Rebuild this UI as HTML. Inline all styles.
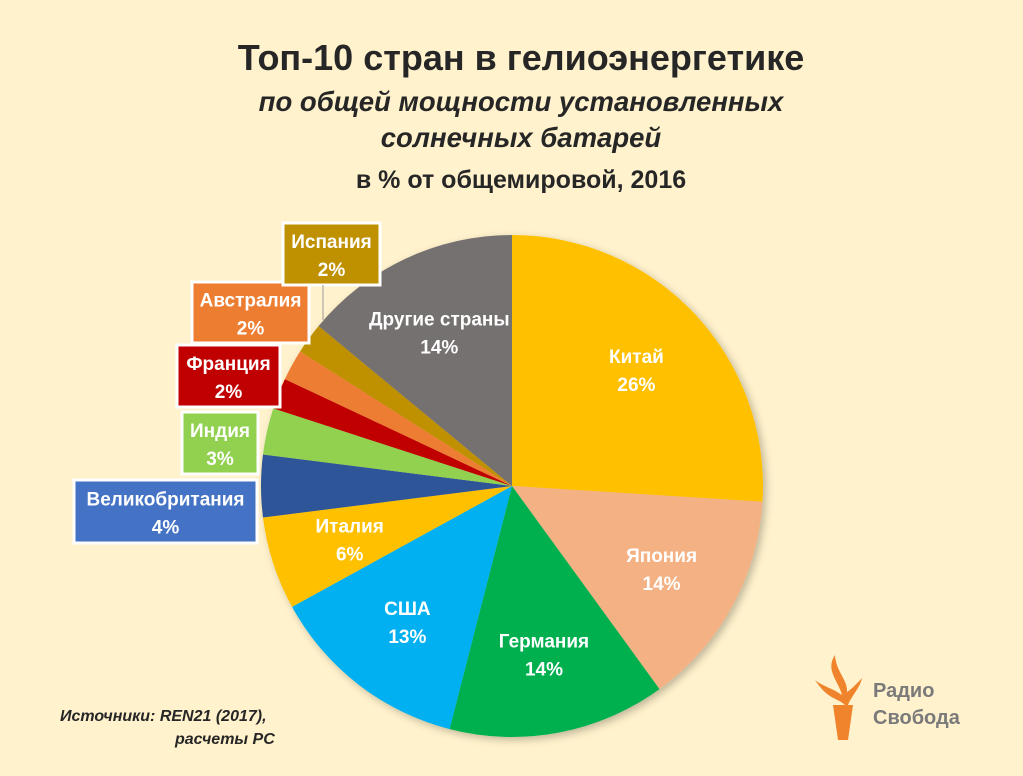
<!DOCTYPE html>
<html><head><meta charset="utf-8"><style>
body{margin:0;width:1023px;height:776px;background:#fff2cc;overflow:hidden;font-family:"Liberation Sans","DejaVu Sans",sans-serif}
svg{position:absolute;left:0;top:0}
text{font-family:"Liberation Sans","DejaVu Sans",sans-serif}
</style></head><body>
<svg id="c" width="1023" height="776">
<defs><filter id="sh" x="-10%" y="-10%" width="130%" height="130%"><feDropShadow dx="3" dy="3" stdDeviation="4" flood-color="#000" flood-opacity="0.25"/></filter></defs>
<text x="521" y="70" text-anchor="middle" font-size="36" font-weight="bold" fill="#262626">Топ-10 стран в гелиоэнергетике</text>
<text x="521" y="111" text-anchor="middle" font-size="27.5" font-weight="bold" font-style="italic" fill="#262626">по общей мощности установленных</text>
<text x="521" y="147" text-anchor="middle" font-size="27.5" font-weight="bold" font-style="italic" fill="#262626">солнечных батарей</text>
<text x="521" y="188" text-anchor="middle" font-size="25" font-weight="bold" fill="#262626">в % от общемировой, 2016</text>
<g id="pie" filter="url(#sh)"></g>
<g id="labels"></g>
<text x="60" y="721" font-size="16" font-weight="bold" font-style="italic" fill="#262626">Источники:  REN21 (2017),</text>
<text x="175" y="744" font-size="16" font-weight="bold" font-style="italic" fill="#262626">расчеты РС</text>
<g>
<path d="M835 655 C825 670 838 680 842 695 C832 688 822 686 815 680 C828 700 838 698 845 705 L833 705 L838 740 L848 740 L853 705 L848 705 C852 695 860 688 862 678 C855 686 850 690 847 692 C848 680 836 672 835 655Z" fill="#f0842c"/>
<text x="873" y="697" font-size="20" font-weight="bold" fill="#7a7a7a">Радио</text>
<text x="873" y="724" font-size="20" font-weight="bold" fill="#7a7a7a">Свобода</text>
</g>
</svg>
<script>
const categories=["Китай","Япония","Германия","США","Италия","Великобритания","Индия","Франция","Австралия","Испания","Другие страны"];
const values=[26,14,14,13,6,4,3,2,2,2,14];
const colors=["#ffc000","#f4b183","#00b050","#00b0f0","#ffc000","#2f5597","#92d050","#c00000","#ed7d31","#bf9000","#767171"];
const boxColors={"Великобритания":"#4472c4"};
const cx=512,cy=486,R=251,NS="http://www.w3.org/2000/svg";
const pie=document.getElementById('pie'),lab=document.getElementById('labels');
const total=values.reduce((a,b)=>a+b,0);
function pt(a,r){return [cx+r*Math.sin(a),cy-r*Math.cos(a)];}
const boxes={"Испания":[283,223,97,62],"Австралия":[192,282,117,61],"Франция":[177,345,103,62],"Индия":[182,412,76,62],"Великобритания":[74,480,183,63]};
let a0=0;
values.forEach((v,i)=>{
 const a1=a0+v/total*2*Math.PI;
 const p0=pt(a0,R),p1=pt(a1,R);
 const p=document.createElementNS(NS,'path');
 p.setAttribute('d',`M${cx},${cy}L${p0[0]},${p0[1]}A${R},${R} 0 ${a1-a0>Math.PI?1:0} 1 ${p1[0]},${p1[1]}Z`);
 p.setAttribute('fill',colors[i]);
 
 
 pie.appendChild(p);
 const am=(a0+a1)/2;let lx,ly;
 const b=boxes[categories[i]];
 if(b){
  const r=document.createElementNS(NS,'rect');
  r.setAttribute('x',b[0]);r.setAttribute('y',b[1]);r.setAttribute('width',b[2]);r.setAttribute('height',b[3]);
  r.setAttribute('fill',boxColors[categories[i]]||colors[i]);r.setAttribute('stroke','#fff');r.setAttribute('stroke-width','3');
  
  
  lab.appendChild(r);lx=b[0]+b[2]/2;ly=b[1]+b[3]/2;
 } else {const q=pt(am,R*0.68);lx=q[0];ly=q[1];}
 [[categories[i],-13],[values[i]+'%',15]].forEach(([t,dy])=>{
  const tx=document.createElementNS(NS,'text');
  tx.setAttribute('x',lx);tx.setAttribute('y',ly+dy+7);tx.setAttribute('text-anchor','middle');
  tx.setAttribute('font-size','19');tx.setAttribute('font-weight','bold');tx.setAttribute('fill','#fff');
  tx.textContent=t;
  
  
  lab.appendChild(tx);
 });
 a0=a1;
});
const ln=document.createElementNS(NS,'line');
ln.setAttribute('x1',323);ln.setAttribute('y1',285);ln.setAttribute('x2',323);ln.setAttribute('y2',320);ln.setAttribute('stroke','#999');


lab.appendChild(ln);
</script>
</body></html>
